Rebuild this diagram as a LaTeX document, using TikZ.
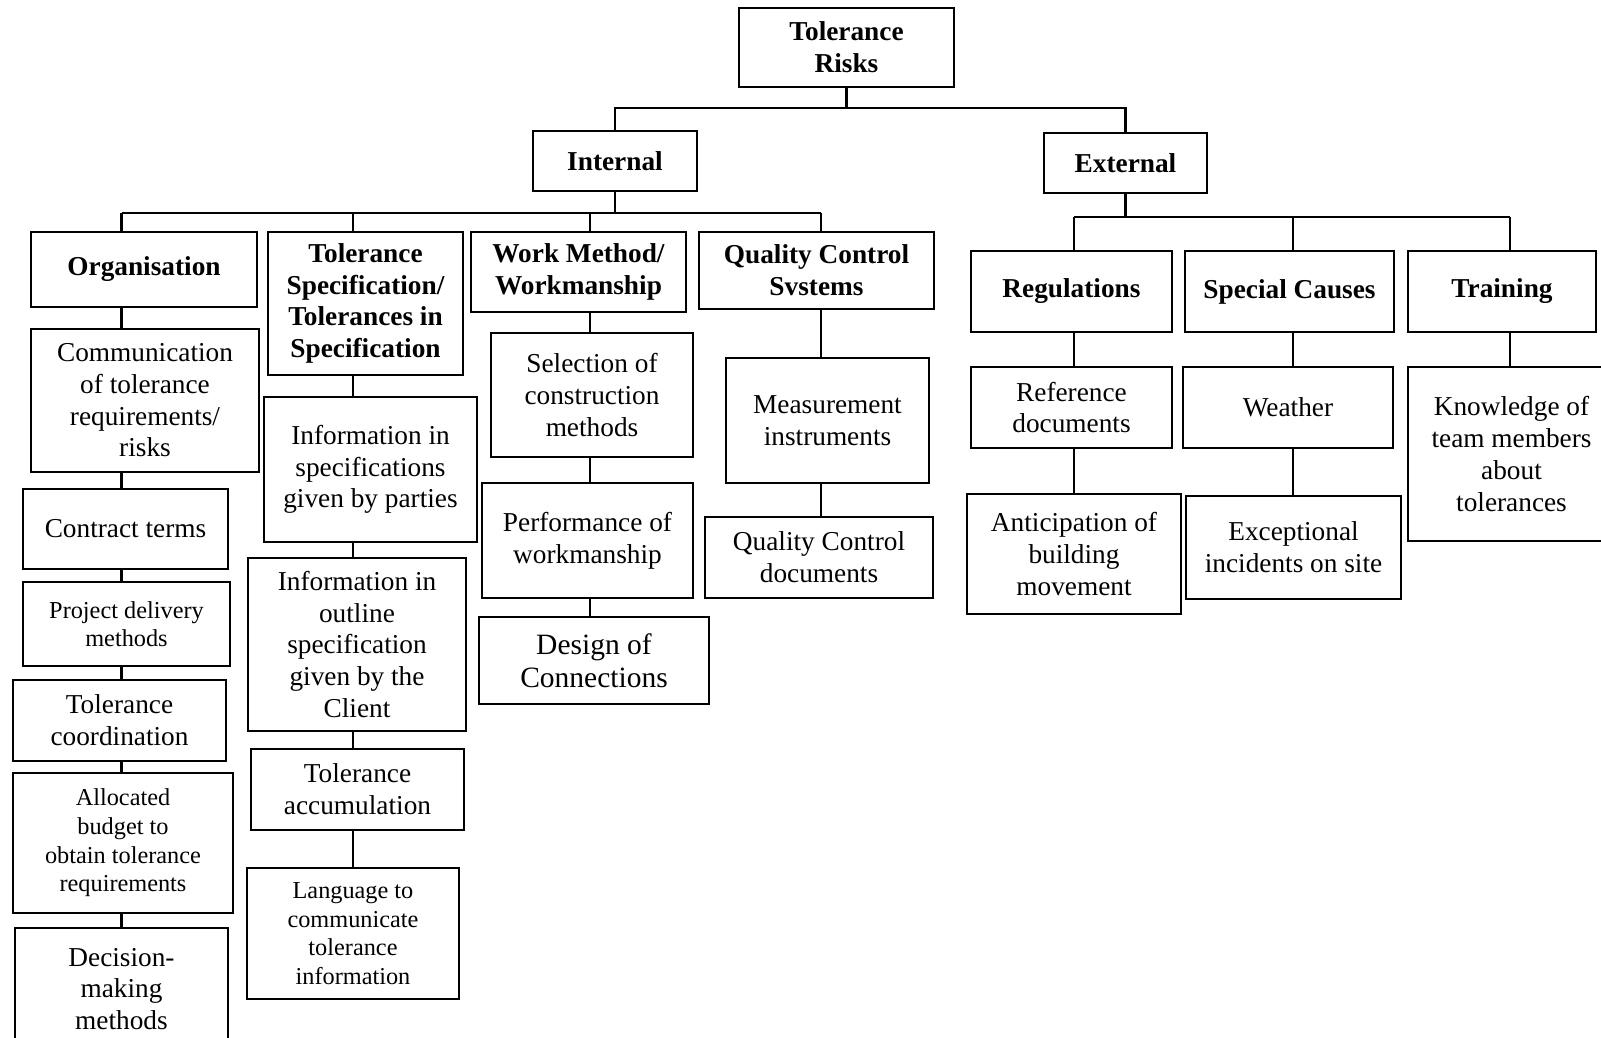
\documentclass[tikz,border=0pt]{standalone}
\usepackage{fontspec}
\setmainfont{Liberation Serif}
\newcommand{\rmsz}{\fontsize{13.65}{15.85}\selectfont}
\newcommand{\smsz}{\fontsize{12.15}{14.3}\selectfont}
\newcommand{\lgsz}{\fontsize{14.75}{16.35}\selectfont}
\tikzset{
  bx/.style={draw,line width=1.25pt,inner sep=0pt,align=center,font=\rmsz},
  hd/.style={bx,font=\rmsz\bfseries},
  sm/.style={bx,font=\smsz},
  lg/.style={bx,font=\lgsz},
  bxat/.style n args={4}{minimum width={(#3-#1)*0.5pt},minimum height={(#4-#2)*0.5pt},at={({(#1+#3)/2},{(#2+#4)/2})}},
  ln/.style={line width=1.15pt}
}

\begin{document}
\begin{tikzpicture}[x=0.5pt,y=-0.5pt]
\useasboundingbox (0,0) rectangle (1601,1038);
\clip (0,0) rectangle (1601,1038);
\node[hd,bxat={739}{8}{954}{87}] (root) {Tolerance\\Risks};
\node[hd,bxat={533}{131}{697}{191}] (int) {Internal};
\node[hd,bxat={1044}{133}{1207}{193}] (ext) {External};
\node[hd,bxat={31}{232}{257}{307}] (org) {Organisation};
\node[bx,bxat={31}{329}{259}{472}] (comm) {Communication\\of tolerance\\requirements/\\risks};
\node[bx,bxat={23}{489}{228}{569}] (ctr) {Contract terms};
\node[sm,bxat={23}{582}{230}{666}] (pdm) {Project delivery\\methods};
\node[bx,bxat={13}{680}{226}{761}] (tco) {Tolerance\\coordination};
\node[sm,bxat={13}{773}{233}{913}] (alb) {Allocated\\budget to\\obtain tolerance\\requirements};
\node[bx,bxat={15}{928}{228}{1050}] (dmm) {Decision-\\making\\methods};
\node[hd,bxat={268}{232}{463}{375}] (ts) {Tolerance\\Specification/\\Tolerances in\\Specification};
\node[bx,bxat={264}{397}{477}{542}] (ips) {Information in\\specifications\\given by parties};
\node[bx,bxat={248}{558}{466}{731}] (ios) {Information in\\outline\\specification\\given by the\\Client};
\node[bx,bxat={251}{749}{464}{830}] (tac) {Tolerance\\accumulation};
\node[sm,bxat={247}{868}{459}{999}] (lng) {Language to\\communicate\\tolerance\\information};
\node[hd,bxat={471}{232}{686}{312}] (wm) {Work Method/\\Workmanship};
\node[bx,bxat={491}{333}{693}{457}] (sel) {Selection of\\construction\\methods};
\node[bx,bxat={482}{483}{693}{598}] (pow) {Performance of\\workmanship};
\node[lg,bxat={479}{617}{709}{704}] (dsg) {Design of\\Connections};
\node[hd,bxat={699}{232}{934}{309}] (qc) {Quality Control\\Svstems};
\node[bx,bxat={726}{358}{929}{483}] (mi) {Measurement\\instruments};
\node[bx,bxat={705}{517}{933}{598}] (qcd) {Quality Control\\documents};
\node[hd,bxat={971}{251}{1172}{332}] (reg) {Regulations};
\node[hd,bxat={1185}{251}{1394}{332}] (spc) {Special Causes};
\node[hd,bxat={1408}{251}{1596}{332}] (trn) {Training};
\node[bx,bxat={971}{367}{1172}{448}] (rd) {Reference\\documents};
\node[bx,bxat={1183}{367}{1393}{448}] (wea) {Weather};
\node[bx,bxat={967}{494}{1181}{614}] (abm) {Anticipation of\\building\\movement};
\node[bx,bxat={1186}{496}{1401}{599}] (eis) {Exceptional\\incidents on site};
\node[bx,bxat={1408}{367}{1615}{541}] (ktm) {Knowledge of\\team members\\about\\tolerances};
\coordinate (b0) at (846.5,108);
\coordinate (c1) at (121.5,213); \coordinate (c2) at (352.7,213);
\coordinate (c3) at (590,213); \coordinate (c4) at (820.7,213);
\coordinate (c5) at (1074,217); \coordinate (c6) at (1293,217); \coordinate (c7) at (1510,217);
\draw[ln] (root) -- (b0); \draw[ln] (int) |- (b0) -| (ext);
\draw[ln] (int) -- (int |- c1); \draw[ln] (c1) -- (c4);
\draw[ln] (ext) -- (ext |- c5); \draw[ln] (c5) -- (c7);
\draw[ln] (c1) -- (c1 |- org.north) (c1 |- org.south) -- (c1 |- comm.north) (c1 |- comm.south) -- (c1 |- ctr.north);
\draw[ln] (c1 |- ctr.south) -- (c1 |- pdm.north) (c1 |- pdm.south) -- (c1 |- tco.north);
\draw[ln] (c1 |- tco.south) -- (c1 |- alb.north) (c1 |- alb.south) -- (c1 |- dmm.north);
\draw[ln] (c2) -- (c2 |- ts.north) (c2 |- ts.south) -- (c2 |- ips.north) (c2 |- ips.south) -- (c2 |- ios.north);
\draw[ln] (c2 |- ios.south) -- (c2 |- tac.north) (c2 |- tac.south) -- (c2 |- lng.north);
\draw[ln] (c3) -- (c3 |- wm.north) (c3 |- wm.south) -- (c3 |- sel.north);
\draw[ln] (c3 |- sel.south) -- (c3 |- pow.north) (c3 |- pow.south) -- (c3 |- dsg.north);
\draw[ln] (c4) -- (c4 |- qc.north) (c4 |- qc.south) -- (c4 |- mi.north) (c4 |- mi.south) -- (c4 |- qcd.north);
\draw[ln] (c5) -- (c5 |- reg.north) (c5 |- reg.south) -- (c5 |- rd.north) (c5 |- rd.south) -- (c5 |- abm.north);
\draw[ln] (c6) -- (c6 |- spc.north) (c6 |- spc.south) -- (c6 |- wea.north) (c6 |- wea.south) -- (c6 |- eis.north);
\draw[ln] (c7) -- (c7 |- trn.north) (c7 |- trn.south) -- (c7 |- ktm.north);
\end{tikzpicture}
\end{document}
